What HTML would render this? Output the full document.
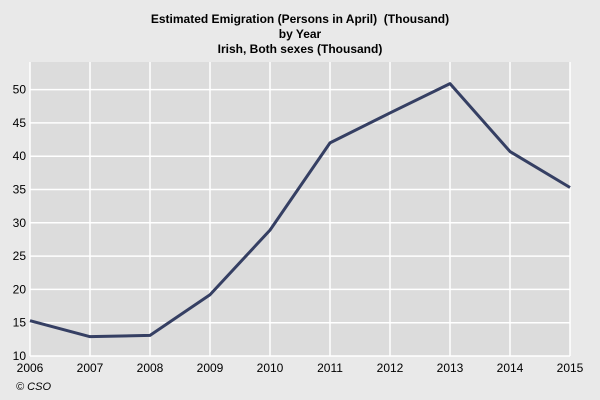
<!DOCTYPE html>
<html><head><meta charset="utf-8"><style>
body{margin:0;background:#e9e9e9;font-family:"Liberation Sans",Arial,sans-serif;}
svg{display:block}
</style></head><body>
<svg id="chart" width="600" height="400" xmlns="http://www.w3.org/2000/svg">
<rect width="600" height="400" fill="#e9e9e9"/>
<g font-size="12" font-weight="bold" text-anchor="middle" fill="#000">
<text x="300" y="23">Estimated Emigration (Persons in April) &#160;(Thousand)</text>
<text x="300" y="38">by Year</text>
<text x="300" y="53">Irish, Both sexes (Thousand)</text>
</g>
<rect x="30" y="62" width="540" height="294" fill="#dcdcdc"/>
<g id="grid"></g>
<g id="marks"></g>
<g id="labels" font-size="12" fill="#000"></g>
<text x="16" y="390" font-size="11" font-style="italic">© CSO</text>
</svg>
<script>
const years=[2006,2007,2008,2009,2010,2011,2012,2013,2014,2015];
const values=[15.3,12.9,13.1,19.2,28.9,42.0,46.5,50.9,40.7,35.3];
const yTicks=[10,15,20,25,30,35,40,45,50];
const NS="http://www.w3.org/2000/svg";
const x=i=>30+i*60;
const y=v=>356-(v-10)*6.66;
const grid=document.getElementById('grid'),marks=document.getElementById('marks'),labels=document.getElementById('labels');
function el(t,a,p){const e=document.createElementNS(NS,t);for(const k in a)e.setAttribute(k,a[k]);p.appendChild(e);return e;}
yTicks.forEach(t=>{
 const l=el('line',{x1:30,x2:570,y1:y(t),y2:y(t),stroke:'#fff','stroke-width':1.5},grid);
 
 
 const tx=el('text',{x:26,y:y(t)+4,'text-anchor':'end'},labels);tx.textContent=t;
 
 
});
years.forEach((yr,i)=>{
 const l=el('line',{x1:x(i),x2:x(i),y1:62,y2:356,stroke:'#fff','stroke-width':1.5},grid);
 
 
 const tx=el('text',{x:x(i),y:372,'text-anchor':'middle'},labels);tx.textContent=yr;
 
 
});
const pl=el('polyline',{points:values.map((v,i)=>x(i)+','+y(v)).join(' '),fill:'none',stroke:'#353f63','stroke-width':3,'stroke-linejoin':'round'},marks);


</script>
</body></html>
